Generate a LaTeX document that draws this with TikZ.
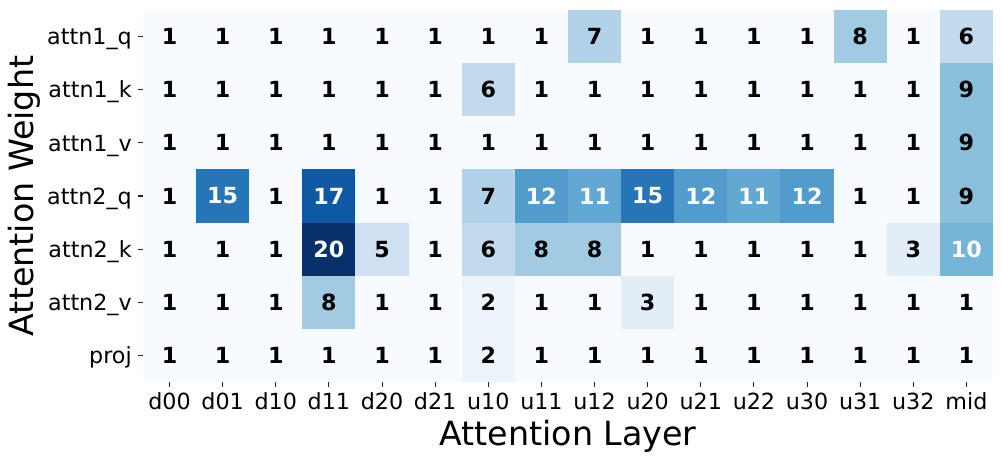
\documentclass[tikz,border=0pt]{standalone}
\usepackage{fontspec}
\setmainfont{DejaVu Sans}
\usepackage{tikz}

\definecolor{v1}{RGB}{247,251,255}
\definecolor{v2}{RGB}{237,244,252}
\definecolor{v3}{RGB}{226,237,248}
\definecolor{v5}{RGB}{206,224,241}
\definecolor{v6}{RGB}{194,217,238}
\definecolor{v7}{RGB}{177,210,232}
\definecolor{v8}{RGB}{160,203,226}
\definecolor{v9}{RGB}{139,192,221}
\definecolor{v10}{RGB}{118,180,216}
\definecolor{v11}{RGB}{98,168,211}
\definecolor{v12}{RGB}{81,156,204}
\definecolor{v15}{RGB}{37,117,183}
\definecolor{v17}{RGB}{15,89,163}
\definecolor{v20}{RGB}{8,48,107}
\definecolor{tickgray}{RGB}{38,38,38}

\begin{document}
\begin{tikzpicture}[x=0.72pt, y=-0.72pt,
    cell/.style={rectangle, inner sep=0, outer sep=0, minimum width=38.3pt, minimum height=38.3pt, font=\fontsize{16}{19}\selectfont\bfseries},
    ticklabel/.style={inner sep=0, font=\fontsize{16}{19}\selectfont},
    axislabel/.style={inner sep=0, font=\fontsize{24}{29}\selectfont},
    tick/.style={tickgray, line width=0.8pt}]
    \useasboundingbox (0, 0) rectangle (1002, 463);
    \fill[v1] (143, 10) rectangle (993, 382);

    \foreach \row [count=\r from 0] in {
        {1,1,1,1,1,1,1,1,7,1,1,1,1,8,1,6},
        {1,1,1,1,1,1,6,1,1,1,1,1,1,1,1,9},
        {1,1,1,1,1,1,1,1,1,1,1,1,1,1,1,9},
        {1,15,1,17,1,1,7,12,11,15,12,11,12,1,1,9},
        {1,1,1,20,5,1,6,8,8,1,1,1,1,1,3,10},
        {1,1,1,8,1,1,2,1,1,3,1,1,1,1,1,1},
        {1,1,1,1,1,1,2,1,1,1,1,1,1,1,1,1}} {
        \foreach \v [count=\c from 0] in \row {
            \ifnum\v>9 \def\tc{white}\else\def\tc{black}\fi
            \node[cell, fill=v\v, text=\tc] (c-\r-\c) at ({143+53.125*(\c+0.5)}, {10+53.14*(\r+0.5)}) {\v};
        }
    }

    \foreach \name [count=\r from 0] in {attn1\_q, attn1\_k, attn1\_v, attn2\_q, attn2\_k, attn2\_v, proj} {
        \draw[tick] (138, {10+53.14*(\r+0.5)}) -- (143, {10+53.14*(\r+0.5)});
        \node[ticklabel, anchor=base east] (w-\r) at (132, {18.2+53.14*(\r+0.5)}) {\name};
    }

    \foreach \name [count=\c from 0] in {d00, d01, d10, d11, d20, d21, u10, u11, u12, u20, u21, u22, u30, u31, u32, mid} {
        \draw[tick] ({143+53.125*(\c+0.5)}, 382) -- ({143+53.125*(\c+0.5)}, 387);
        \node[ticklabel, anchor=base] (l-\c) at ({143+53.125*(\c+0.5)}, 409) {\name};
    }

    \node[axislabel, anchor=base] (xlabel) at (568, 445) {Attention Layer};
    \node[axislabel, anchor=base, rotate=90] (ylabel) at (33, 196) {Attention Weight};
\end{tikzpicture}
\end{document}
